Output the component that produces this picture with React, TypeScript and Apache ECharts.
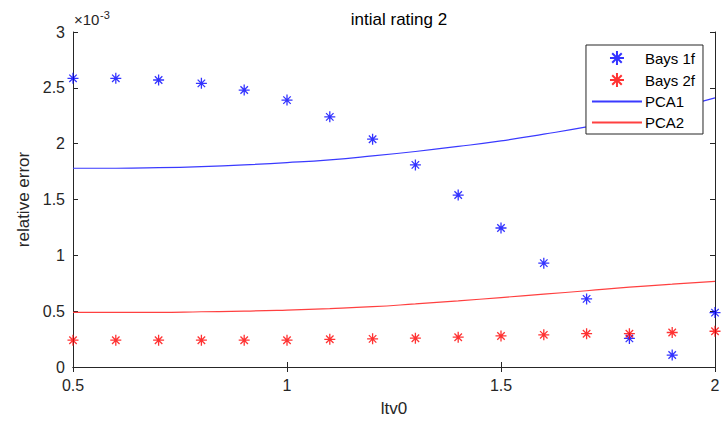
import React, { useEffect, useRef } from "react";
import * as echarts from "echarts";

// x values (ltv0)
const xValues = [0.5, 0.6, 0.7, 0.8, 0.9, 1.0, 1.1, 1.2, 1.3, 1.4, 1.5, 1.6, 1.7, 1.8, 1.9, 2.0];
// relative error values, in units of 1e-3
const bays1f = [2.585, 2.585, 2.57, 2.54, 2.48, 2.39, 2.24, 2.04, 1.81, 1.54, 1.245, 0.93, 0.61, 0.256, 0.107, 0.487];
const bays2f = [0.24, 0.24, 0.24, 0.24, 0.24, 0.24, 0.248, 0.252, 0.258, 0.267, 0.278, 0.288, 0.298, 0.298, 0.309, 0.32];
const pca1 = [1.78, 1.78, 1.785, 1.795, 1.81, 1.83, 1.855, 1.89, 1.93, 1.975, 2.025, 2.085, 2.15, 2.225, 2.31, 2.41];
const pca2 = [0.49, 0.49, 0.49, 0.495, 0.5, 0.51, 0.523, 0.54, 0.565, 0.592, 0.622, 0.652, 0.683, 0.715, 0.742, 0.767];

const seriesNames = ["Bays 1f", "Bays 2f", "PCA1", "PCA2"];
const xTickInterval = 0.5;
const yTickInterval = 0.5;

const ASTERISK = "path://M5,0L5,10M0,5L10,5M1.6,1.6L8.4,8.4M1.6,8.4L8.4,1.6";

const pairs = (ys: number[]) => xValues.map((x, i) => [x, ys[i]]);

export default function App() {
  const ref = useRef<HTMLDivElement>(null);
  useEffect(() => {
    if (!ref.current) return;
    const chart = echarts.init(ref.current, undefined, { renderer: "svg" });
    const font = "Liberation Sans, Arial, sans-serif";
    const axisColor = "#262626";
    const boxAxis = {
      type: "value" as const,
      axisLine: { show: true, lineStyle: { color: axisColor, width: 1 } },
      axisTick: { show: true, inside: true, length: 5, lineStyle: { color: axisColor } },
      splitLine: { show: false },
    };
    chart.setOption({
      animation: false,
      backgroundColor: "#ffffff",
      textStyle: { fontFamily: font },
      title: [
        {
          text: "intial rating 2",
          left: 394,
          textAlign: "center",
          top: 6,
          textStyle: { fontSize: 17, fontWeight: "normal", color: "#000", fontFamily: font },
        },
        {
          text: "×10",
          left: 74,
          top: 12,
          padding: 0,
          textStyle: { fontSize: 15, fontWeight: "normal", color: axisColor, fontFamily: font },
        },
        {
          text: "-3",
          left: 100,
          top: 9,
          padding: 0,
          textStyle: { fontSize: 11, fontWeight: "normal", color: axisColor, fontFamily: font },
        },
      ],
      grid: { left: 73, right: 11, top: 32, bottom: 54, containLabel: false },
      legend: {
        data: [
          { name: seriesNames[0] },
          { name: seriesNames[1] },
          { name: seriesNames[2], itemStyle: { opacity: 0 } },
          { name: seriesNames[3], itemStyle: { opacity: 0 } },
        ],
        orient: "vertical",
        right: 23,
        top: 45,
        padding: [5, 8, 4, 5],
        itemWidth: 50,
        itemHeight: 14,
        itemGap: 6,
        backgroundColor: "#fff",
        borderColor: "#262626",
        borderWidth: 1,
        borderRadius: 0,
        textStyle: { fontSize: 15, color: "#000", fontFamily: font, padding: [0, 0, 0, -2] },
      },
      xAxis: [
        {
          ...boxAxis,
          position: "bottom",
          min: 0.5,
          max: 2,
          interval: xTickInterval,
          axisLabel: { fontSize: 16, color: axisColor, margin: 10, fontFamily: font },
          name: "ltv0",
          nameLocation: "middle",
          nameGap: 33,
          nameTextStyle: { fontSize: 17, color: axisColor, fontFamily: font },
        },
        {
          ...boxAxis,
          position: "top",
          min: 0.5,
          max: 2,
          interval: xTickInterval,
          axisLabel: { show: false },
        },
      ],
      yAxis: [
        {
          ...boxAxis,
          position: "left",
          min: 0,
          max: 3,
          interval: yTickInterval,
          axisLabel: { fontSize: 16, color: axisColor, margin: 8, fontFamily: font },
          name: "relative error",
          nameLocation: "middle",
          nameGap: 36,
          nameTextStyle: { fontSize: 17, color: axisColor, fontFamily: font },
        },
        {
          ...boxAxis,
          position: "right",
          min: 0,
          max: 3,
          interval: yTickInterval,
          axisLabel: { show: false },
        },
      ],
      series: [
        {
          name: seriesNames[0],
          type: "scatter",
          data: pairs(bays1f),
          symbol: ASTERISK,
          symbolSize: 11,
          clip: false,
          itemStyle: { color: "rgba(0,0,0,0)", borderColor: "#0000ff", borderWidth: 1.3 },
          z: 3,
        },
        {
          name: seriesNames[1],
          type: "scatter",
          data: pairs(bays2f),
          symbol: ASTERISK,
          symbolSize: 11,
          clip: false,
          itemStyle: { color: "rgba(0,0,0,0)", borderColor: "#ff0000", borderWidth: 1.3 },
          z: 3,
        },
        {
          name: seriesNames[2],
          type: "line",
          data: pairs(pca1),
          smooth: true,
          symbol: "none",
          showSymbol: false,
          lineStyle: { color: "#3a3aff", width: 1.2 },
          itemStyle: { color: "#3a3aff" },
        },
        {
          name: seriesNames[3],
          type: "line",
          data: pairs(pca2),
          smooth: true,
          symbol: "none",
          showSymbol: false,
          lineStyle: { color: "#ff4040", width: 1.2 },
          itemStyle: { color: "#ff4040" },
        },
      ],
    });
    return () => chart.dispose();
  }, []);
  return <div ref={ref} style={{ width: 726, height: 422, position: "absolute", left: 0, top: 0 }} />;
}
